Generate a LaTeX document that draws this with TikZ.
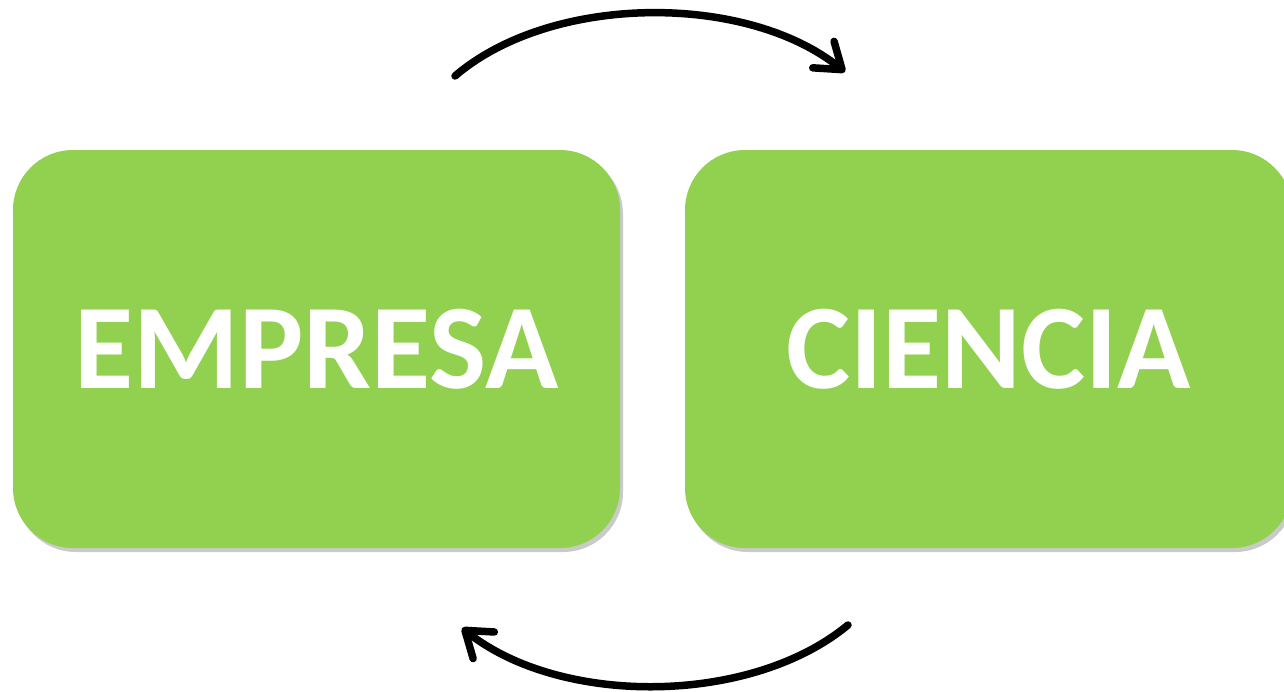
\documentclass[tikz,border=0pt]{standalone}
\usepackage{fontspec}
\setmainfont{Carlito}
\usetikzlibrary{arrows.meta,shadows}
\newlength{\du}
\setlength{\du}{1pt}
\tikzset{
  greenbox/.style={fill=dialinefill, draw=none, rounded corners=60\du,
    minimum width=607\du, minimum height=398\du, inner sep=0pt,
    text=white, font=\fontsize{121}{121}\selectfont\bfseries,
    drop shadow={shadow xshift=3\du, shadow yshift=-4\du, opacity=0.35, fill=black!60}},
  cyclearrow/.style={line width=7.5\du, line cap=round,
    -{Straight Barb[length=24pt, width=34pt, round]}}
}
\begin{document}
\begin{tikzpicture}
\pgftransformxscale{1.000000}
\pgftransformyscale{-1.000000}
\definecolor{dialinecolor}{rgb}{0.000000, 0.000000, 0.000000}
\pgfsetstrokecolor{dialinecolor}
\definecolor{dialinefill}{rgb}{0.572549, 0.815686, 0.313725}
\useasboundingbox (0\du,0\du) rectangle (1284\du,691\du);
% boxes
\node[greenbox] (empresa) at (316.500000\du,349.000000\du){EMPRESA};
\node[greenbox] (ciencia) at (988.500000\du,349.000000\du){CIENCIA};
% arrows
\coordinate (topstart) at (455.000000\du,76.000000\du);
\coordinate (topend) at (845.000000\du,72.000000\du);
\coordinate (botstart) at (848.000000\du,625.000000\du);
\coordinate (botend) at (462.000000\du,628.000000\du);
\draw[cyclearrow] (topstart) .. controls (552\du,-7\du) and (747\du,-7\du) .. (topend);
\draw[cyclearrow] (botstart) .. controls (750\du,706\du) and (560\du,706\du) .. (botend);
\end{tikzpicture}
\end{document}
